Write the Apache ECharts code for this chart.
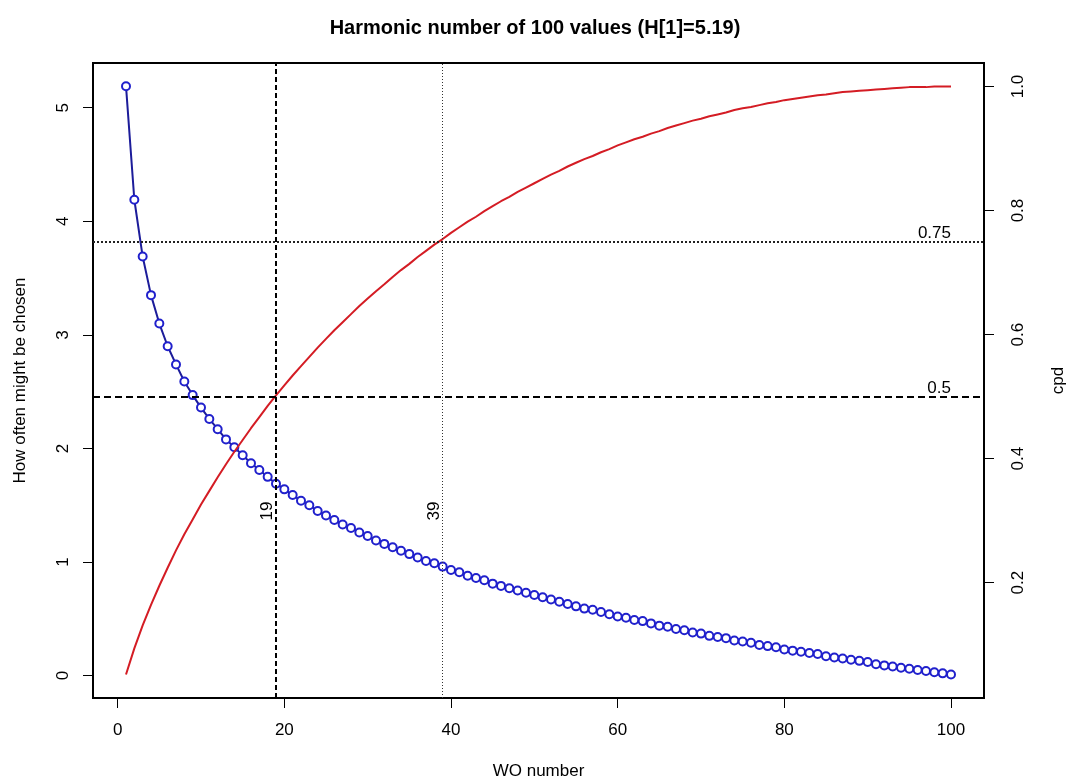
<!DOCTYPE html>
<html>
<head>
<meta charset="utf-8">
<title>Harmonic number of 100 values</title>
<script src="https://cdn.jsdelivr.net/npm/echarts@6/dist/echarts.min.js"></script>
<style>
  html, body { margin: 0; padding: 0; background: #fff; }
  #chart { width: 1070px; height: 784px; }
</style>
</head>
<body>
<div id="chart"></div>
<script>
// WO number 1..100 (x index)
var woNumber = [];
for (var i = 1; i <= 100; i++) woNumber.push(i);

// how often might be chosen (left axis, blue circles)
var chosen = [
  5.19, 4.19, 3.69, 3.35, 3.10, 2.90, 2.74, 2.59, 2.47, 2.36,
  2.26, 2.17, 2.08, 2.01, 1.94, 1.87, 1.81, 1.75, 1.69, 1.64,
  1.59, 1.54, 1.50, 1.45, 1.41, 1.37, 1.33, 1.30, 1.26, 1.23,
  1.19, 1.16, 1.13, 1.10, 1.07, 1.04, 1.01, 0.99, 0.96, 0.93,
  0.91, 0.88, 0.86, 0.84, 0.81, 0.79, 0.77, 0.75, 0.73, 0.71,
  0.69, 0.67, 0.65, 0.63, 0.61, 0.59, 0.58, 0.56, 0.54, 0.52,
  0.51, 0.49, 0.48, 0.46, 0.44, 0.43, 0.41, 0.40, 0.38, 0.37,
  0.35, 0.34, 0.33, 0.31, 0.30, 0.29, 0.27, 0.26, 0.25, 0.23,
  0.22, 0.21, 0.20, 0.19, 0.17, 0.16, 0.15, 0.14, 0.13, 0.12,
  0.10, 0.09, 0.08, 0.07, 0.06, 0.05, 0.04, 0.03, 0.02, 0.01
];

// cumulative proportion (right axis, red line)
var cpd = [
  0.052, 0.094, 0.131, 0.164, 0.195, 0.224, 0.252, 0.278, 0.302, 0.326,
  0.348, 0.370, 0.391, 0.411, 0.430, 0.449, 0.467, 0.485, 0.502, 0.518,
  0.534, 0.549, 0.564, 0.579, 0.593, 0.607, 0.620, 0.633, 0.646, 0.658,
  0.670, 0.681, 0.693, 0.704, 0.714, 0.725, 0.735, 0.745, 0.754, 0.764,
  0.773, 0.782, 0.790, 0.799, 0.807, 0.815, 0.822, 0.830, 0.837, 0.844,
  0.851, 0.858, 0.864, 0.871, 0.877, 0.883, 0.888, 0.894, 0.899, 0.905,
  0.910, 0.915, 0.919, 0.924, 0.928, 0.933, 0.937, 0.941, 0.945, 0.948,
  0.952, 0.955, 0.958, 0.962, 0.965, 0.967, 0.970, 0.973, 0.975, 0.978,
  0.980, 0.982, 0.984, 0.986, 0.987, 0.989, 0.991, 0.992, 0.993, 0.994,
  0.995, 0.996, 0.997, 0.998, 0.999, 0.999, 0.999, 1.000, 1.000, 1.000
];

var xTicks = [0, 20, 40, 60, 80, 100];
var leftTicks = [0, 1, 2, 3, 4, 5];
var rightTicks = [0.2, 0.4, 0.6, 0.8, 1.0];
var cpdCuts = [0.5, 0.75];
var woCuts = [19, 39];
var woCutLabelY = 1.45;

var font = "'Liberation Sans', Arial, sans-serif";
var chart = echarts.init(document.getElementById('chart'), null, { renderer: 'canvas' });

var option = {
  animation: false,
  backgroundColor: '#fff',
  title: {
    text: 'Harmonic number of 100 values (H[1]=5.19)',
    left: 'center',
    top: 13,
    textStyle: { fontFamily: font, fontSize: 20, fontWeight: 'bold', color: '#000' }
  },
  grid: {
    left: 93, right: 86, top: 63, bottom: 86,
    outerBoundsMode: 'none',
    containLabel: false,
    show: true, borderColor: '#000', borderWidth: 2, backgroundColor: 'transparent'
  },
  xAxis: {
    type: 'value',
    min: -2.96, max: 103.96,
    name: 'WO number',
    nameLocation: 'middle',
    nameGap: 65,
    nameTextStyle: { fontFamily: font, fontSize: 17, color: '#000' },
    splitLine: { show: false },
    axisLine: { show: true, onZero: false, lineStyle: { color: '#000', width: 2 } },
    axisTick: { show: true, length: 10, customValues: xTicks, lineStyle: { color: '#000', width: 1 } },
    axisLabel: { customValues: xTicks, margin: 24, fontFamily: font, fontSize: 17, color: '#000' }
  },
  yAxis: [
    {
      type: 'value',
      position: 'left',
      min: -0.197, max: 5.394,
      name: 'How often might be chosen',
      nameLocation: 'middle',
      nameRotate: 90,
      nameGap: 64,
      nameTextStyle: { fontFamily: font, fontSize: 17, color: '#000' },
      splitLine: { show: false },
      axisLine: { show: true, onZero: false, lineStyle: { color: '#000', width: 2 } },
      axisTick: { show: true, length: 10, customValues: leftTicks, lineStyle: { color: '#000', width: 1 } },
      axisLabel: { customValues: leftTicks, rotate: 90, margin: 21, fontFamily: font, fontSize: 17, color: '#000' }
    },
    {
      type: 'value',
      position: 'right',
      min: 0.014, max: 1.0379,
      name: 'cpd',
      nameLocation: 'middle',
      nameRotate: 90,
      nameGap: 66,
      nameTextStyle: { fontFamily: font, fontSize: 17, color: '#000' },
      splitLine: { show: false },
      axisLine: { show: true, onZero: false, lineStyle: { color: '#000', width: 2 } },
      axisTick: { show: true, length: 10, customValues: rightTicks, lineStyle: { color: '#000', width: 1 } },
      axisLabel: {
        customValues: rightTicks, rotate: 90, margin: 26,
        fontFamily: font, fontSize: 17, color: '#000',
        formatter: function (v) { return v.toFixed(1); }
      }
    }
  ],
  series: [
    {
      name: 'chosen',
      type: 'line',
      yAxisIndex: 0,
      data: woNumber.map(function (x, i) { return [x, chosen[i]]; }),
      symbol: 'emptyCircle',
      symbolSize: 8,
      itemStyle: { color: '#2020cc', borderWidth: 2 },
      lineStyle: { color: '#1c1c9a', width: 2 },
      z: 3,
      markLine: {
        silent: true,
        symbol: ['none', 'none'],
        label: { show: false },
        data: [
          { xAxis: woCuts[0], lineStyle: { color: '#000', width: 2, type: [5, 3] } },
          { xAxis: woCuts[1], lineStyle: { color: '#333', width: 1, type: [1, 2] } }
        ]
      }
    },
    {
      name: 'cpd',
      type: 'line',
      yAxisIndex: 1,
      data: woNumber.map(function (x, i) { return [x, cpd[i]]; }),
      showSymbol: false,
      lineStyle: { color: '#d41c24', width: 2 },
      z: 4,
      markLine: {
        silent: true,
        symbol: ['none', 'none'],
        label: { show: false },
        data: [
          { yAxis: cpdCuts[0], lineStyle: { color: '#000', width: 2, type: [7, 4] } },
          { yAxis: cpdCuts[1], lineStyle: { color: '#222', width: 2, type: [2, 2] } }
        ]
      }
    },
    {
      name: 'cpd cut labels',
      type: 'scatter',
      yAxisIndex: 1,
      symbolSize: 0,
      silent: true,
      itemStyle: { opacity: 1 },
      data: cpdCuts.map(function (c) { return [100, c]; }),
      label: {
        show: true, position: [0, 0], align: 'right', verticalAlign: 'bottom',
        fontFamily: font, fontSize: 17, color: '#000', opacity: 1,
        formatter: function (p) { return String(p.value[1]); }
      }
    },
    {
      name: 'wo cut labels',
      type: 'scatter',
      yAxisIndex: 0,
      symbolSize: 0,
      silent: true,
      itemStyle: { opacity: 1 },
      data: woCuts.map(function (w) { return [w, woCutLabelY]; }),
      label: {
        show: true, position: [0, 0], rotate: 90, align: 'center', verticalAlign: 'bottom',
        fontFamily: font, fontSize: 17, color: '#000', opacity: 1,
        formatter: function (p) { return String(p.value[0]); }
      }
    }
  ]
};

chart.setOption(option);
</script>
</body>
</html>
